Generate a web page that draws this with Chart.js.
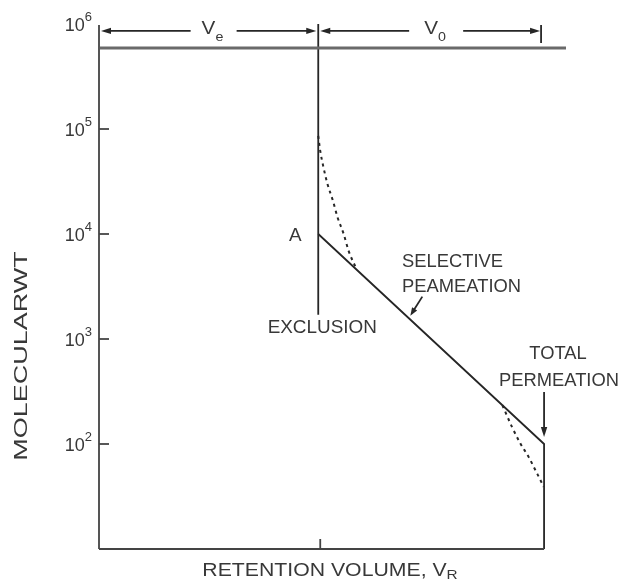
<!DOCTYPE html>
<html>
<head>
<meta charset="utf-8">
<script src="https://cdn.jsdelivr.net/npm/chart.js@4.4.1/dist/chart.umd.min.js"></script>
<style>
  html, body { margin: 0; padding: 0; background: #fff; }
  #wrap { width: 622px; height: 581px; }
</style>
</head>
<body>
<div id="wrap"><canvas id="c" width="622" height="581"></canvas></div>
<script>
// Retention volume in arbitrary units, molecular weight on a log axis
const exclusionVolume = 10;      // end of V_e
const totalVolume = 20.3;        // total permeation volume
const volumeAxisMax = 21.3;
const mwMin = 10;
const mwMax = 1e6;
const mwTickValues = [1e2, 1e3, 1e4, 1e5, 1e6];
const mwTickExponents = ['2', '3', '4', '5', '6'];
const markedMwTicks = [1e2, 1e3, 1e4, 1e5];

// Exclusion limit: vertical line at V_e
const exclusionX = [10, 10];
const exclusionMW = [1e6, 1700];

// Ideal calibration: point A, selective permeation, total permeation
const calibrationX = [10, 20.3, 20.3];
const calibrationMW = [1e4, 100, 10];

// Real calibration curvature near both limits (dashed)
const upperTailX = [10.0, 10.09, 10.24, 10.42, 10.67, 10.88, 11.16, 11.38, 11.75];
const upperTailMW = [86000, 62000, 43000, 30000, 20700, 14400, 10000, 6950, 4600];
const lowerTailX = [18.4, 18.84, 19.22, 19.6, 19.91, 20.21, 20.28];
const lowerTailMW = [234, 145, 101, 75, 56, 42, 39];

// Top band and volume arrows
const topBandX = [0, 21.3];
const topBandMW = [5.9e5, 5.9e5];
const arrowMW = 8.6e5;

const ink = '#262626';
const textInk = '#383838';
const fontFamily = '"Liberation Sans", Arial, Helvetica, sans-serif';

const toPoints = (xs, ys) => xs.map((v, i) => ({ x: v, y: ys[i] }));

function arrowHead(ctx, tipX, tipY, dirX, dirY, len, half) {
  const px = -dirY, py = dirX;
  ctx.beginPath();
  ctx.moveTo(tipX, tipY);
  ctx.lineTo(tipX - dirX * len + px * half, tipY - dirY * len + py * half);
  ctx.lineTo(tipX - dirX * len - px * half, tipY - dirY * len - py * half);
  ctx.closePath();
  ctx.fill();
}

function stretchedText(ctx, str, x, y, size, sx, align) {
  ctx.save();
  ctx.font = size + 'px ' + fontFamily;
  const w = ctx.measureText(str).width * sx;
  let left = x;
  if (align === 'center') left = x - w / 2;
  else if (align === 'right') left = x - w;
  ctx.translate(left, y);
  ctx.scale(sx, 1);
  ctx.textAlign = 'left';
  ctx.fillText(str, 0, 0);
  ctx.restore();
  return w;
}

const sketchLayer = {
  id: 'sketchLayer',
  afterDatasetsDraw(chart) {
    const { ctx, chartArea: a, scales: { x, y } } = chart;
    ctx.save();
    ctx.fillStyle = textInk;
    ctx.strokeStyle = ink;
    ctx.textBaseline = 'alphabetic';

    // left axis
    ctx.strokeStyle = '#555';
    ctx.lineWidth = 2;
    ctx.beginPath();
    ctx.moveTo(a.left, a.top + 1);
    ctx.lineTo(a.left, a.bottom);
    ctx.stroke();

    // bottom axis up to total permeation
    ctx.strokeStyle = '#444';
    ctx.lineWidth = 1.8;
    ctx.beginPath();
    ctx.moveTo(a.left, a.bottom);
    ctx.lineTo(x.getPixelForValue(totalVolume), a.bottom);
    ctx.stroke();

    // inward tick marks on the molecular weight axis
    ctx.lineWidth = 1.8;
    markedMwTicks.forEach(v => {
      const py = y.getPixelForValue(v);
      ctx.beginPath();
      ctx.moveTo(a.left, py);
      ctx.lineTo(a.left + 10, py);
      ctx.stroke();
    });
    // tick on the volume axis at V_e
    const xe = x.getPixelForValue(exclusionVolume);
    ctx.beginPath();
    ctx.moveTo(xe + 2, a.bottom);
    ctx.lineTo(xe + 2, a.bottom - 10);
    ctx.stroke();

    // tick labels 10^n
    mwTickValues.forEach((v, i) => {
      const py = y.getPixelForValue(v);
      ctx.font = '13px ' + fontFamily;
      const ew = ctx.measureText(mwTickExponents[i]).width;
      const expLeft = a.left - 7 - ew;
      ctx.fillText(mwTickExponents[i], expLeft, py - 3);
      ctx.font = '18px ' + fontFamily;
      ctx.textAlign = 'right';
      ctx.fillText('10', expLeft, py + 7);
      ctx.textAlign = 'left';
    });

    // volume arrows along the top
    const ya = y.getPixelForValue(arrowMW);
    const x0 = x.getPixelForValue(0);
    const xt = x.getPixelForValue(totalVolume);
    ctx.strokeStyle = ink;
    ctx.fillStyle = ink;
    ctx.lineWidth = 1.8;
    const span = (l, r, c, gap) => {
      ctx.beginPath();
      ctx.moveTo(l + 6, ya); ctx.lineTo(c - gap, ya);
      ctx.moveTo(c + gap, ya); ctx.lineTo(r - 6, ya);
      ctx.stroke();
      arrowHead(ctx, l, ya, -1, 0, 10, 3.2);
      arrowHead(ctx, r, ya, 1, 0, 10, 3.2);
    };
    const cVe = (x0 + xe) / 2 + 5;
    const cV0 = (xe + xt) / 2 + 5;
    span(x0 + 2, xe - 2, cVe, 23);
    span(xe + 2, xt - 4, cV0, 27);
    ctx.beginPath();
    ctx.moveTo(xt - 3, a.top + 1);
    ctx.lineTo(xt - 3, a.top + 19);
    ctx.stroke();

    ctx.fillStyle = textInk;
    let w = stretchedText(ctx, 'V', cVe - 12, ya + 3, 18, 1.15, 'left');
    stretchedText(ctx, 'e', cVe - 12 + w, ya + 10, 13, 1.1, 'left');
    w = stretchedText(ctx, 'V', cV0 - 12, ya + 3, 18, 1.15, 'left');
    stretchedText(ctx, '0', cV0 - 12 + w, ya + 10, 13, 1.1, 'left');

    // point A and EXCLUSION
    const yA = y.getPixelForValue(calibrationMW[0]);
    stretchedText(ctx, 'A', xe - 23, yA + 7, 18, 1.05, 'center');
    const yEx = y.getPixelForValue(exclusionMW[1]);
    stretchedText(ctx, 'EXCLUSION', xe + 4, yEx + 18, 18, 1.05, 'center');

    // SELECTIVE PEAMEATION with pointer to the slope
    stretchedText(ctx, 'SELECTIVE', 402, 267, 18, 1.02, 'left');
    stretchedText(ctx, 'PEAMEATION', 402, 292, 18, 1.02, 'left');
    const tipV = 14.2;
    const lineLog = Math.log10(calibrationMW[0]) +
      (Math.log10(calibrationMW[1]) - Math.log10(calibrationMW[0])) *
      (tipV - calibrationX[0]) / (calibrationX[1] - calibrationX[0]);
    const tipX = x.getPixelForValue(tipV);
    const tipY = y.getPixelForValue(Math.pow(10, lineLog)) - 4;
    const sx0 = tipX + 12, sy0 = tipY - 19;
    const dl = Math.hypot(tipX - sx0, tipY - sy0);
    ctx.strokeStyle = ink; ctx.fillStyle = ink;
    ctx.beginPath(); ctx.moveTo(sx0, sy0); ctx.lineTo(tipX + (sx0 - tipX) * 6 / dl, tipY + (sy0 - tipY) * 6 / dl); ctx.stroke();
    arrowHead(ctx, tipX, tipY, (tipX - sx0) / dl, (tipY - sy0) / dl, 8, 3);

    // TOTAL PERMEATION with pointer down to the corner
    ctx.fillStyle = textInk;
    stretchedText(ctx, 'TOTAL', 558, 359, 18, 1.02, 'center');
    stretchedText(ctx, 'PERMEATION', 559, 386, 18, 1.02, 'center');
    const yCorner = y.getPixelForValue(calibrationMW[1]);
    ctx.fillStyle = ink;
    ctx.beginPath(); ctx.moveTo(xt, 392); ctx.lineTo(xt, yCorner - 12); ctx.stroke();
    arrowHead(ctx, xt, yCorner - 7, 0, 1, 10, 3.2);

    // axis titles
    ctx.fillStyle = textInk;
    const tx = 330;
    ctx.font = '18px ' + fontFamily;
    const mainW = ctx.measureText('RETENTION VOLUME, V').width * 1.18;
    ctx.font = '13px ' + fontFamily;
    const subW = ctx.measureText('R').width * 1.18;
    const startX = tx - (mainW + subW) / 2;
    stretchedText(ctx, 'RETENTION VOLUME, V', startX, 576, 18, 1.18, 'left');
    stretchedText(ctx, 'R', startX + mainW, 579, 13, 1.18, 'left');

    ctx.save();
    ctx.translate(27, 356);
    ctx.rotate(-Math.PI / 2);
    stretchedText(ctx, 'MOLECULARWT', 0, 0, 18, 1.5, 'center');
    ctx.restore();

    ctx.restore();
  }
};

const lineStyle = {
  pointRadius: 0,
  borderColor: ink,
  borderWidth: 1.8,
  fill: false,
  tension: 0,
  clip: false
};

new Chart(document.getElementById('c'), {
  type: 'line',
  data: {
    datasets: [
      Object.assign({}, lineStyle, { label: 'Top band', data: toPoints(topBandX, topBandMW), borderColor: '#6a6a6a', borderWidth: 3 }),
      Object.assign({}, lineStyle, { label: 'Exclusion', data: toPoints(exclusionX, exclusionMW) }),
      Object.assign({}, lineStyle, { label: 'Calibration', data: toPoints(calibrationX, calibrationMW) }),
      Object.assign({}, lineStyle, { label: 'Upper tail', data: toPoints(upperTailX, upperTailMW), borderWidth: 2, borderDash: [3, 4], cubicInterpolationMode: 'monotone' }),
      Object.assign({}, lineStyle, { label: 'Lower tail', data: toPoints(lowerTailX, lowerTailMW), borderWidth: 2, borderDash: [3, 4], cubicInterpolationMode: 'monotone' })
    ]
  },
  options: {
    responsive: false,
    animation: false,
    layout: { padding: { left: 99, right: 56, top: 24, bottom: 32 } },
    plugins: { legend: { display: false }, tooltip: { enabled: false } },
    scales: {
      x: { type: 'linear', min: 0, max: volumeAxisMax, display: false },
      y: { type: 'logarithmic', min: mwMin, max: mwMax, display: false }
    }
  },
  plugins: [sketchLayer]
});
</script>
</body>
</html>
